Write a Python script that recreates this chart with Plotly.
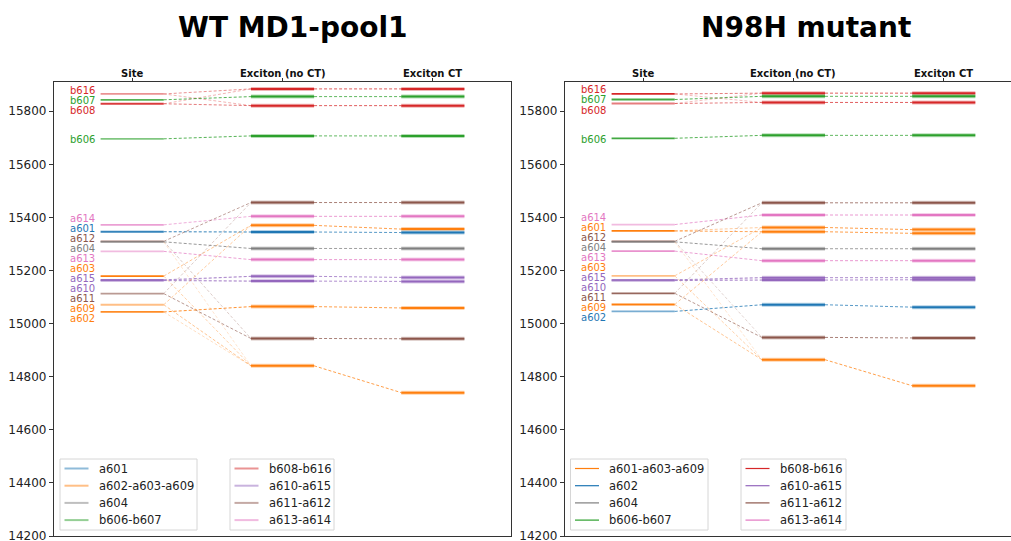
import plotly.graph_objects as go

# ---------------- data ----------------
site_names = ["b616", "b607", "b608", "b606", "a614", "a601", "a612", "a604",
              "a613", "a603", "a615", "a610", "a611", "a609", "a602"]

# WT MD1-pool1
wt_site_energy = [15865, 15843, 15828, 15696, 15372, 15346, 15310, 15308,
                  15272, 15179, 15165, 15162, 15113, 15071, 15044]
wt_site_group = ["b608-b616", "b606-b607", "b608-b616", "b606-b607", "a613-a614",
                 "a601", "a611-a612", "a604", "a613-a614", "a602-a603-a609",
                 "a610-a615", "a610-a615", "a611-a612", "a602-a603-a609",
                 "a602-a603-a609"]
wt_exc_noct = [15884, 15855, 15821, 15707, 15456, 15404, 15370, 15345,
               15283, 15241, 15178, 15160, 15064, 14944, 14841]
wt_exc_ct = [15884, 15855, 15821, 15707, 15456, 15404, 15356, 15343,
             15283, 15241, 15174, 15159, 15059, 14943, 14740]
wt_exc_group = ["b608-b616", "b606-b607", "b608-b616", "b606-b607", "a611-a612",
                "a613-a614", "a602-a603-a609", "a601", "a604", "a613-a614",
                "a610-a615", "a610-a615", "a602-a603-a609", "a611-a612",
                "a602-a603-a609"]
# (site, exciton index, weight)
wt_links = [("b616", 0, 0.5), ("b616", 2, 0.35), ("b608", 0, 0.35), ("b608", 2, 0.6),
            ("b607", 1, 0.8), ("b606", 3, 0.8), ("a614", 5, 0.6), ("a601", 7, 0.9),
            ("a612", 4, 0.55), ("a612", 13, 0.3), ("a604", 8, 0.8), ("a604", 14, 0.2),
            ("a613", 9, 0.7), ("a603", 6, 0.45), ("a603", 14, 0.35),
            ("a615", 10, 0.7), ("a610", 11, 0.7), ("a615", 11, 0.3), ("a610", 10, 0.3),
            ("a611", 4, 0.3), ("a611", 13, 0.6), ("a609", 6, 0.4), ("a609", 14, 0.45),
            ("a602", 12, 0.85), ("a602", 14, 0.25)]
wt_legend_a = ["a601", "a602-a603-a609", "a604", "b606-b607"]
wt_legend_b = ["b608-b616", "a610-a615", "a611-a612", "a613-a614"]

# N98H mutant
mut_site_energy = [15865, 15844, 15829, 15698, 15373, 15349, 15310, 15308,
                   15273, 15180, 15165, 15162, 15114, 15072, 15046]
mut_site_group = ["b608-b616", "b606-b607", "b608-b616", "b606-b607", "a613-a614",
                  "a601-a603-a609", "a611-a612", "a604", "a613-a614",
                  "a601-a603-a609", "a610-a615", "a610-a615", "a611-a612",
                  "a601-a603-a609", "a602"]
mut_exc_noct = [15868, 15856, 15833, 15709, 15455, 15409, 15362, 15346,
                15282, 15237, 15173, 15164, 15071, 14948, 14864]
mut_exc_ct = [15868, 15856, 15833, 15709, 15455, 15409, 15354, 15340,
              15282, 15237, 15173, 15165, 15062, 14946, 14766]
mut_exc_group = ["b608-b616", "b606-b607", "b608-b616", "b606-b607", "a611-a612",
                 "a613-a614", "a601-a603-a609", "a601-a603-a609", "a604",
                 "a613-a614", "a610-a615", "a610-a615", "a602", "a611-a612",
                 "a601-a603-a609"]
mut_links = [("b616", 0, 0.6), ("b616", 2, 0.3), ("b608", 0, 0.3), ("b608", 2, 0.6),
             ("b607", 1, 0.8), ("b606", 3, 0.8), ("a614", 5, 0.7), ("a601", 6, 0.4),
             ("a601", 7, 0.7), ("a612", 4, 0.6), ("a612", 13, 0.25), ("a604", 8, 0.8),
             ("a604", 14, 0.2), ("a613", 9, 0.7), ("a603", 6, 0.4), ("a603", 14, 0.35),
             ("a615", 10, 0.7), ("a610", 11, 0.7), ("a615", 11, 0.3), ("a610", 10, 0.3),
             ("a611", 4, 0.3), ("a611", 13, 0.6), ("a609", 7, 0.4), ("a609", 14, 0.45),
             ("a602", 12, 0.8)]
mut_legend_a = ["a601-a603-a609", "a602", "a604", "b606-b607"]
mut_legend_b = ["b608-b616", "a610-a615", "a611-a612", "a613-a614"]

columns = ["Site", "Exciton (no CT)", "Exciton CT"]
y_ticks = [14200, 14400, 14600, 14800, 15000, 15200, 15400, 15600, 15800]

# ---------------- styling ----------------
TAB = {"blue": "31,119,180", "orange": "255,127,14", "green": "44,160,44",
       "red": "214,39,40", "purple": "148,103,189", "brown": "140,86,75",
       "pink": "227,119,194", "gray": "127,127,127"}
wt_colors = {"a601": "blue", "a602-a603-a609": "orange", "a604": "gray",
             "b606-b607": "green", "b608-b616": "red", "a610-a615": "purple",
             "a611-a612": "brown", "a613-a614": "pink"}
mut_colors = {"a601-a603-a609": "orange", "a602": "blue", "a604": "gray",
              "b606-b607": "green", "b608-b616": "red", "a610-a615": "purple",
              "a611-a612": "brown", "a613-a614": "pink"}
wt_site_alpha = [0.5, 0.8, 0.9, 0.6, 0.7, 0.9, 0.75, 0.75, 0.5, 1.0, 0.9, 0.9, 0.6, 0.5, 0.9]
mut_site_alpha = [1.0, 0.9, 0.6, 0.9, 0.5, 1.0, 0.9, 0.8, 0.8, 0.5, 0.8, 0.8, 0.9, 1.0, 0.6]

FONT = "DejaVu Sans"
HALF = 0.21        # half width of an energy level bar (x units)
LABEL_X = -0.425   # left edge of site labels
LABEL_GAP = 37.7   # minimum vertical spacing of site labels (energy units)
W, H = 1011, 541


def px(v):
    return v / W


def py(v):
    return (H - v) / H


def rgba(name, a):
    return "rgba(%s,%.3f)" % (TAB[name], a)


def spread_labels(values, gap):
    """Place labels at their values, pushing overlapping ones apart as centred clusters."""
    order = sorted(range(len(values)), key=lambda i: -values[i])
    clusters = [[i] for i in order]
    while True:
        merged = False
        for k in range(len(clusters) - 1):
            a, b = clusters[k], clusters[k + 1]
            ca = sum(values[i] for i in a) / len(a)
            cb = sum(values[i] for i in b) / len(b)
            bottom_a = ca - (len(a) - 1) * gap / 2
            top_b = cb + (len(b) - 1) * gap / 2
            if bottom_a - top_b < gap:
                clusters[k] = a + b
                del clusters[k + 1]
                merged = True
                break
        if not merged:
            break
    pos = [0.0] * len(values)
    for c in clusters:
        centre = sum(values[i] for i in c) / len(c)
        top = centre + (len(c) - 1) * gap / 2
        for j, i in enumerate(c):
            pos[i] = top - j * gap
    return pos


fig = go.Figure()


def seg(xref, yref, x0, x1, y0, y1, color, width, dash="solid"):
    fig.add_trace(go.Scatter(x=[x0, x1], y=[y0, y1], mode="lines", xaxis=xref, yaxis=yref,
                             line=dict(color=color, width=width, dash=dash),
                             hoverinfo="skip", showlegend=False))


def legend_box(left, top, right, groups, cmap, alpha, width):
    """Framed key: a short line sample followed by the group name, one row per group."""
    row = 17.2
    bottom = top + 71
    fig.add_shape(type="rect", xref="paper", yref="paper", x0=px(left), x1=px(right),
                  y0=py(bottom), y1=py(top), line=dict(color="#d6d6d6", width=1),
                  fillcolor="rgba(255,255,255,0.8)", layer="above")
    for j, g in enumerate(groups):
        yc = top + 9.5 + j * row
        fig.add_shape(type="line", xref="paper", yref="paper", x0=px(left + 4.5),
                      x1=px(left + 28.5), y0=py(yc), y1=py(yc),
                      line=dict(color=rgba(cmap[g], alpha), width=width), layer="above")
        fig.add_annotation(x=px(left + 36.5), y=py(yc), xref="paper", yref="paper", text=g,
                           showarrow=False, xanchor="left", yanchor="middle",
                           font=dict(family=FONT, size=11.5, color="#222"))


def panel(xref, yref, site_e, site_g, site_a, noct, ct, exc_g, links, cmap):
    idx = {n: i for i, n in enumerate(site_names)}
    # connectors site -> exciton (no CT)
    for name, k, w in links:
        c = cmap[exc_g[k]]
        seg(xref, yref, HALF, 1 - HALF, site_e[idx[name]], noct[k], rgba(c, w), 1, "3px,2px")
    # connectors exciton (no CT) -> exciton CT
    for k in range(len(noct)):
        c = cmap[exc_g[k]]
        seg(xref, yref, 1 + HALF, 2 - HALF, noct[k], ct[k], rgba(c, 0.75), 1, "3px,2px")
    # site levels
    for i, e in enumerate(site_e):
        seg(xref, yref, -HALF, HALF, e, e, rgba(cmap[site_g[i]], site_a[i]), 1.8)
    # exciton levels
    for col, levels in ((1, noct), (2, ct)):
        for k, e in enumerate(levels):
            c = cmap[exc_g[k]]
            seg(xref, yref, col - HALF, col + HALF, e, e, rgba(c, 0.35), 4)
            seg(xref, yref, col - HALF, col + HALF, e, e, rgba(c, 1.0), 2)
    # site labels
    lab_y = spread_labels(site_e, LABEL_GAP)
    for i, n in enumerate(site_names):
        fig.add_annotation(x=LABEL_X, y=lab_y[i], xref=xref, yref=yref, text=n,
                           showarrow=False, xanchor="left", yanchor="middle", yshift=-1,
                           font=dict(family=FONT, size=10, color=rgba(cmap[site_g[i]], 1)))
    # column headers above the top axis
    for k, c in enumerate(columns):
        fig.add_annotation(x=k, y=py(73), xref=xref, yref="paper", text="<b>%s</b>" % c,
                           showarrow=False, xanchor="center", yanchor="middle",
                           font=dict(family=FONT, size=10, color="#111"))


panel("x", "y", wt_site_energy, wt_site_group, wt_site_alpha, wt_exc_noct, wt_exc_ct,
      wt_exc_group, wt_links, wt_colors)
panel("x2", "y2", mut_site_energy, mut_site_group, mut_site_alpha, mut_exc_noct,
      mut_exc_ct, mut_exc_group, mut_links, mut_colors)

legend_box(60, 459, 197, wt_legend_a, wt_colors, 0.5, 2)
legend_box(230, 459, 334, wt_legend_b, wt_colors, 0.5, 2)
legend_box(570.5, 459, 708, mut_legend_a, mut_colors, 1.0, 1.2)
legend_box(741, 459, 846, mut_legend_b, mut_colors, 1.0, 1.2)

axis_line = "#333333"
yrange = [14200, 15910]
ycommon = dict(range=yrange, showgrid=False, zeroline=False, showline=True, linecolor=axis_line,
               linewidth=1.2, ticks="outside", ticklen=4, tickcolor=axis_line,
               tickvals=y_ticks, tickformat="d", ticklabeloverflow="allow",
               tickfont=dict(family=FONT, size=12, color="#222"), automargin=False)
xcommon = dict(showgrid=False, zeroline=False, showline=True, linecolor=axis_line, linewidth=1.2,
               side="top", ticks="outside", ticklen=3, tickcolor=axis_line,
               tickvals=[0, 1, 2], showticklabels=False, automargin=False)

fig.update_layout(
    width=W, height=H, margin=dict(l=0, r=0, t=0, b=0),
    paper_bgcolor="white", plot_bgcolor="white", showlegend=False,
    xaxis=dict(xcommon, domain=[px(54), px(511)], range=[-0.52, 2.52], mirror=True, anchor="y"),
    yaxis=dict(ycommon, domain=[py(536), py(82)], mirror=True, anchor="x"),
    xaxis2=dict(xcommon, domain=[px(565), 1.0], range=[-0.52, -0.52 + (W - 565) / 150.3],
                mirror=True, anchor="y2"),
    yaxis2=dict(ycommon, domain=[py(536), py(82)], mirror=False, anchor="x2"),
)

fig.add_annotation(x=px(293), y=py(28), xref="paper", yref="paper", text="<b>WT MD1-pool1</b>",
                   showarrow=False, xanchor="center", yanchor="middle",
                   font=dict(family=FONT, size=28, color="black"))
fig.add_annotation(x=px(806), y=py(28), xref="paper", yref="paper", text="<b>N98H mutant</b>",
                   showarrow=False, xanchor="center", yanchor="middle",
                   font=dict(family=FONT, size=28, color="black"))

fig.write_html("out.html")
